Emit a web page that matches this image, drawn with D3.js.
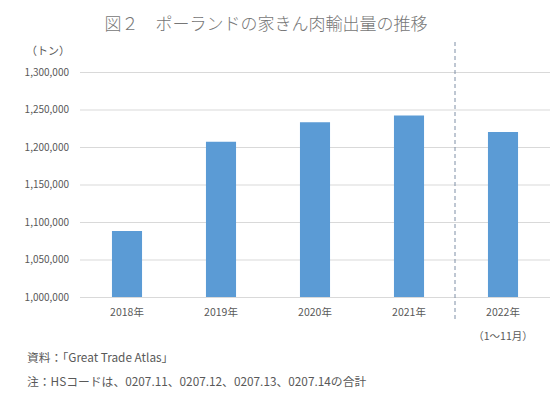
<!DOCTYPE html>
<html>
<head>
<meta charset="utf-8">
<script src="https://cdn.jsdelivr.net/npm/d3@7"></script>
<style>
  body { margin: 0; background: #fff; }
  svg text { font-family: "Noto Sans CJK JP", "Noto Sans", sans-serif; }
</style>
</head>
<body>
<div id="chart"></div>
<script>
const years   = ['2018年', '2019年', '2020年', '2021年', '2022年'];
const exports = [1088000, 1207000, 1233000, 1242000, 1220000];
const yTicks  = [1000000, 1050000, 1100000, 1150000, 1200000, 1250000, 1300000];

const W = 560, H = 394;
const MARGIN = { top: 72, right: 10, bottom: 97, left: 80 };
const C_BAR  = '#5b9bd5';
const C_TEXT = '#595959';
const C_GRID = '#d9d9d9';

const w = W - MARGIN.left - MARGIN.right;
const h = H - MARGIN.top - MARGIN.bottom;

const svg = d3.select('#chart').append('svg')
    .attr('width', W).attr('height', H);

svg.append('text')
    .attr('x', 266).attr('y', 30)
    .attr('text-anchor', 'middle')
    .attr('fill', '#767676').style('font-size', '17px').style('font-weight', 300)
    .text('図２　ポーランドの家きん肉輸出量の推移');

const g = svg.append('g').attr('transform', `translate(${MARGIN.left},${MARGIN.top})`);

const xScale = d3.scaleBand().domain(years).range([0, w]).paddingInner(0.68).paddingOuter(0.34);
const yScale = d3.scaleLinear().domain([1000000, 1300000]).range([h, 0]);

// gridlines + tick labels
g.append('g').call(d3.axisLeft(yScale).tickValues(yTicks).tickSize(-w).tickFormat(d3.format(',')))
    .call(ax => ax.select('.domain').remove())
    .call(ax => ax.selectAll('.tick line').attr('stroke', C_GRID))
    .call(ax => ax.selectAll('.tick text').attr('x', -11).attr('fill', C_TEXT).style('font-size', '10px'));

g.append('text').attr('x', -10).attr('y', -17)
    .attr('text-anchor', 'end')
    .attr('fill', C_TEXT).style('font-size', '11px').text('（トン）');

g.selectAll('.bar').data(years).enter().append('rect')
    .attr('class', 'bar')
    .attr('x', d => xScale(d))
    .attr('width', xScale.bandwidth())
    .attr('y', (d, i) => yScale(exports[i]))
    .attr('height', (d, i) => h - yScale(exports[i]))
    .attr('fill', C_BAR);

// x labels
const xAxis = g.append('g').attr('transform', `translate(0,${h})`)
    .call(d3.axisBottom(xScale).tickSize(0).tickPadding(12));
xAxis.select('.domain').remove();
xAxis.selectAll('.tick text').attr('fill', C_TEXT).style('font-size', '10.5px');
xAxis.selectAll('.tick').filter(d => d === '2022年').append('text')
    .attr('y', 43).attr('fill', C_TEXT).style('font-size', '10.5px')
    .attr('text-anchor', 'middle').text('（1〜11月）');

// dashed divider before 2022
const divX = xScale('2022年') - xScale.step() * xScale.paddingInner() / 2 - 1;
g.append('line')
    .attr('x1', divX).attr('x2', divX)
    .attr('y1', -30).attr('y2', h + 24)
    .attr('stroke', '#7f8fa6').attr('stroke-width', 1)
    .attr('stroke-dasharray', '4,3');

// notes
svg.append('text').attr('x', 27).attr('y', 362)
    .attr('fill', C_TEXT).style('font-size', '11.8px')
    .text('資料：「Great Trade Atlas」');
svg.append('text').attr('x', 27).attr('y', 386)
    .attr('fill', C_TEXT).style('font-size', '11.8px')
    .text('注：HSコードは、0207.11、0207.12、0207.13、0207.14の合計');
</script>
</body>
</html>
